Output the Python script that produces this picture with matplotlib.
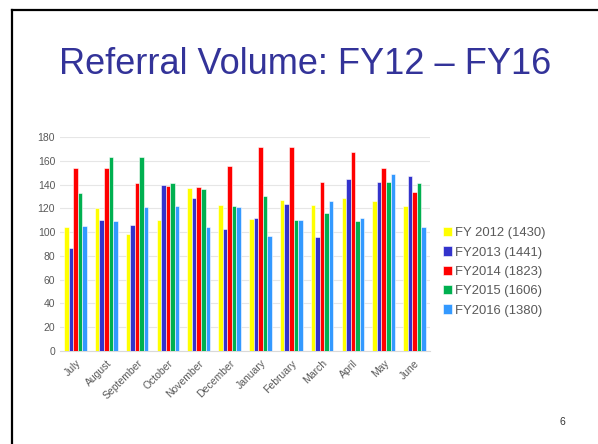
import numpy as np
import matplotlib
matplotlib.use("Agg")
import matplotlib.pyplot as plt
from matplotlib.lines import Line2D

months = ['July', 'August', 'September', 'October', 'November', 'December',
          'January', 'February', 'March', 'April', 'May', 'June']
fy2012 = [104, 120, 98, 110, 137, 123, 111, 127, 123, 129, 126, 122]
fy2013 = [87, 110, 106, 140, 129, 103, 112, 124, 96, 145, 142, 147]
fy2014 = [154, 154, 141, 139, 138, 156, 172, 172, 142, 167, 154, 134]
fy2015 = [133, 163, 163, 141, 136, 122, 130, 110, 116, 109, 142, 141]
fy2016 = [105, 109, 121, 122, 104, 121, 97, 110, 126, 112, 149, 104]
labels = ['FY 2012 (1430)', 'FY2013 (1441)', 'FY2014 (1823)', 'FY2015 (1606)', 'FY2016 (1380)']
colors = ['#FFFF00', '#3333CC', '#FF0000', '#00B050', '#3399FF']

plt.rcParams['font.family'] = ['Liberation Sans', 'DejaVu Sans']

fig = plt.figure(figsize=(5.98, 4.44), dpi=100)

# slide border (left and top)
fig.add_artist(Line2D([12/598, 12/598], [0, 1 - 10/444], color='black', lw=1.6))
fig.add_artist(Line2D([12/598, 1], [1 - 10/444, 1 - 10/444], color='black', lw=1.6))

fig.text(305/598, 1 - 64/444, 'Referral Volume: FY12 – FY16', ha='center', va='center',
         fontsize=26, color='#333399')
fig.text(562/598, 1 - 422/444, '6', ha='center', va='center', fontsize=7.5, color='#333333')

ax = fig.add_axes([60/598, 93/444, 370/598, 214/444])
x = np.arange(len(months))
w = 0.148
series = [fy2012, fy2013, fy2014, fy2015, fy2016]
for i, (vals, c, lab) in enumerate(zip(series, colors, labels)):
    ax.bar(x + (i - 2) * w, vals, width=w, color=c, label=lab,
           edgecolor='white', linewidth=0.4, zorder=3)

ax.set_ylim(0, 180)
ax.set_xlim(-0.5, len(months) - 0.5)
ax.set_yticks(range(0, 181, 20))
ax.yaxis.grid(True, color='#E6E6E6', lw=0.8, zorder=0)
ax.set_xticks(x)
ax.set_xticklabels(months, rotation=45, ha='right', rotation_mode='anchor')
ax.tick_params(axis='both', length=0, labelsize=7.5, labelcolor='#595959')
ax.tick_params(axis='x', pad=5)
for s in ['top', 'right', 'left']:
    ax.spines[s].set_visible(False)
ax.spines['bottom'].set_color('#D9D9D9')

ax.legend(loc='center left', bbox_to_anchor=(1.01, 0.37), frameon=False,
          fontsize=9.4, handlelength=0.7, handleheight=0.7, handletextpad=0.2,
          labelspacing=0.55, labelcolor='#595959', borderaxespad=0.3)

fig.savefig('out.png', dpi=100)
